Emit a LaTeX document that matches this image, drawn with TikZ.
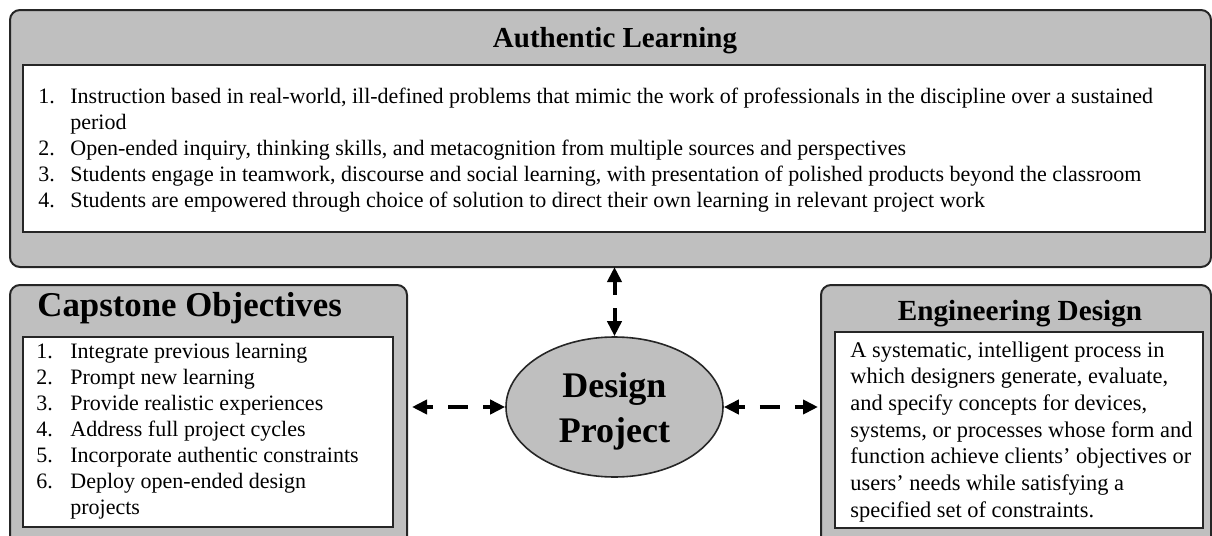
\documentclass[tikz,border=0pt]{standalone}
\usepackage{fontspec}
\setmainfont{Liberation Serif}
\usetikzlibrary{shapes.geometric,arrows.meta}
\newcommand\pxu{0.5pt}
\definecolor{panelgray}{HTML}{BFBFBF}
\definecolor{edgegray}{HTML}{262626}
\tikzset{
  panel/.style={draw=edgegray, line width=1pt, fill=panelgray, rounded corners=5pt,
    inner sep=0pt, outer sep=0pt, anchor=north west},
  sheet/.style={draw=edgegray, line width=1pt, fill=white,
    inner sep=0pt, outer sep=0pt, anchor=north west},
  heading/.style={font=\bfseries\fontsize{#1}{#1}\selectfont, inner sep=0pt},
  body/.style={font=\fontsize{11}{13}\selectfont, inner sep=0pt, anchor=base west},
  link/.style={line width=2pt, draw=black, {Triangle[length=7.5pt,width=7pt]}-{Triangle[length=7.5pt,width=7pt]}},
}
\begin{document}
\begin{tikzpicture}[x=0.5pt, y=-0.5pt]
  \useasboundingbox (0,0) rectangle (1212,536);
  \clip (0,0) rectangle (1212,536);

  % Authentic Learning panel
  \node[panel, minimum width=1201*\pxu, minimum height=257*\pxu] (al) at (10,10) {};
  \node[sheet, minimum width=1182*\pxu, minimum height=167*\pxu] (alsheet) at (23,65) {};
  \node[heading=14.5, anchor=base] (altitle) at (615,47) {Authentic Learning};
  \node[body] (allist) at (38,103) {%
    \begin{tabular}[t]{@{}p{16pt}@{}l@{}}
      1. & Instruction based in real-world, ill-defined problems that mimic the work of professionals in the discipline over a sustained\\
         & period\\
      2. & Open-ended inquiry, thinking skills, and metacognition from multiple sources and perspectives\\
      3. & Students engage in teamwork, discourse and social learning, with presentation of polished products beyond the classroom\\
      4. & Students are empowered through choice of solution to direct their own learning in relevant project work
    \end{tabular}};

  % Capstone Objectives panel
  \node[panel, minimum width=397*\pxu, minimum height=270*\pxu] (cap) at (10,285) {};
  \node[sheet, minimum width=370*\pxu, minimum height=190*\pxu] (capsheet) at (23,337) {};
  \node[heading=17.4, anchor=base west] (captitle) at (37,316) {Capstone Objectives};
  \node[body] (caplist) at (36,358) {%
    \begin{tabular}[t]{@{}p{17pt}@{}l@{}}
      1. & Integrate previous learning\\
      2. & Prompt new learning\\
      3. & Provide realistic experiences\\
      4. & Address full project cycles\\
      5. & Incorporate authentic constraints\\
      6. & Deploy open-ended design\\
         & projects
    \end{tabular}};

  % Engineering Design panel
  \node[panel, minimum width=390*\pxu, minimum height=270*\pxu] (eng) at (821,285) {};
  \node[sheet, minimum width=368*\pxu, minimum height=196*\pxu] (engsheet) at (835,332) {};
  \node[heading=14.6, anchor=base] (engtitle) at (1020,320) {Engineering Design};
  \node[body, font=\fontsize{11.2}{13.35}\selectfont] (engtext) at (850,357) {%
    \begin{tabular}[t]{@{}l@{}}
      A systematic, intelligent process in\\
      which designers generate, evaluate,\\
      and specify concepts for devices,\\
      systems, or processes whose form and\\
      function achieve clients’ objectives or\\
      users’ needs while satisfying a\\
      specified set of constraints.
    \end{tabular}};

  % central Design Project ellipse
  \node[ellipse, draw=edgegray, line width=0.8pt, fill=panelgray, inner sep=0pt,
        minimum width=217*\pxu, minimum height=140*\pxu] (dp) at (614.5,407) {};
  \node[align=center, inner sep=0pt, font=\bfseries\fontsize{18}{22.5}\selectfont]
        (dptext) at (614.5,411.3) {Design\\Project};

  % two-way dashed connectors
  \draw[link, dash pattern=on 7pt off 6.5pt on 20pt] (al.south -| dp.north) -- (dp.north);
  \draw[link, shorten <=2.5pt, dash pattern=on 3.5pt off 7.5pt on 10pt off 7.5pt on 10pt]
        (cap.east |- dp.west) -- (dp.west);
  \draw[link, shorten >=1.5pt, dash pattern=on 3.5pt off 7.5pt on 10pt off 7.5pt on 10pt]
        (dp.east) -- (eng.west |- dp.east);
\end{tikzpicture}
\end{document}
